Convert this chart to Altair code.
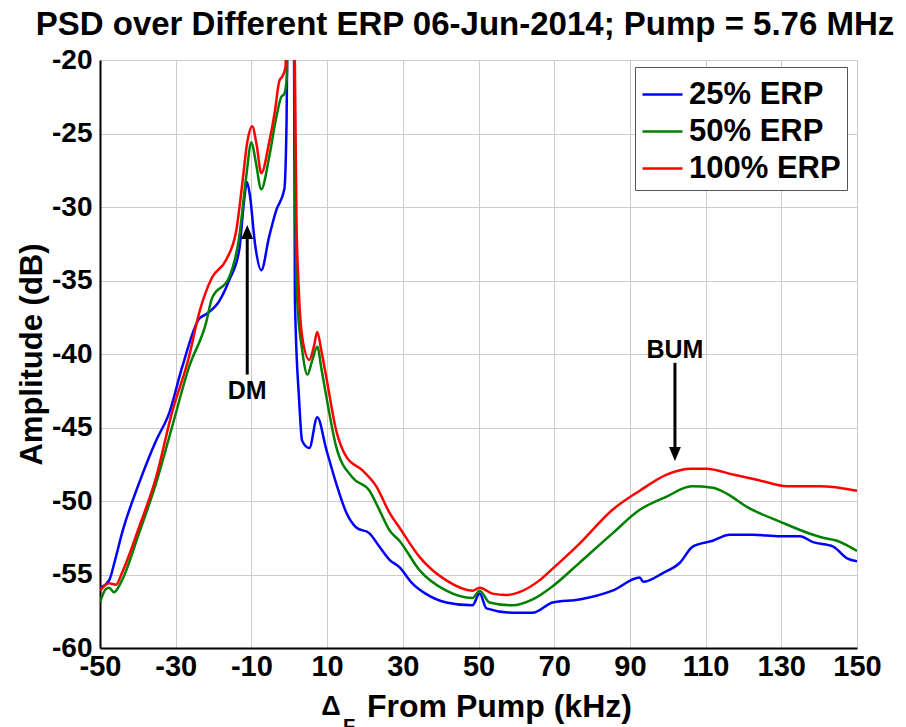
import altair as alt
import pandas as pd

# ---------------- data ----------------
x_25 = [-50, -47.6, -46, -44.2, -39.7, -35.2, -31.7, -28.3, -23.8, -22, -18.5, -15.9, -13.2,
        -11.9, -11.2, -10.4, -9, -7.4, -5.3, -3.4, -1.3, -0.7, -0.3, 0.5, 1.2, 1.5, 2.6, 3.4,
        5.3, 7.4, 9.8, 12.4, 15.1, 17.7, 21.2, 23.8, 26.5, 29.1, 32.5, 36, 41.5, 48.4, 50.3,
        52.1, 59, 64.3, 69.6, 76.7, 85.4, 92.6, 93.5, 98.7, 103.2, 106.6, 111.9, 116.4, 122.5,
        129.6, 134.9, 138.4, 143.7, 147.4, 150]
y_25 = [-55.9, -55.4, -54.0, -52.2, -48.8, -45.9, -44.0, -40.9, -37.6, -37.3, -36.4, -35.0, -32.9,
        -29.5, -28.3, -29.2, -32.6, -34.3, -32.0, -30.2, -28.8, -24.0, -12.0, 0.0, -14.0, -36.3, -43.1, -45.9,
        -46.4, -44.3, -46.5, -48.8, -50.8, -51.8, -52.2, -53.1, -54.0, -54.5, -55.6, -56.3, -56.9, -57.1, -56.3,
        -57.3, -57.6, -57.6, -56.9, -56.7, -56.1, -55.2, -55.5, -54.9, -54.2, -53.1, -52.7, -52.3, -52.3,
        -52.4, -52.4, -52.8, -53.1, -53.9, -54.1]

x_50 = [-50, -48.5, -47.6, -46.3, -44.2, -39.7, -35.2, -31, -26.5, -22, -20.4, -15.9, -13.2, -11.4,
        -10, -8.8, -7.4, -5.3, -3.5, -2.1, -1.3, -0.6, -0.3, 0.5, 1.2, 1.6, 2.1, 3.4, 4.8, 6, 7.4,
        8.5, 9.8, 12.4, 16.7, 21.2, 23.8, 26.5, 29.1, 34.4, 41.5, 48.4, 50.3, 52.9, 59, 64.3, 69.6,
        76.7, 85.4, 92.6, 99.7, 106.3, 111.9, 115.6, 120.9, 129.6, 138.4, 141, 144.7, 150]
y_50 = [-56.9, -56.0, -55.9, -56.2, -55.4, -52.2, -48.8, -45.0, -40.9, -37.9, -36.2, -34.8, -32.0, -28.0,
        -25.6, -27.0, -28.8, -26.6, -24.0, -22.5, -22.3, -21.0, -10.0, 0.0, -12.0, -30.0, -36.3, -39.7, -41.4, -40.5, -39.5,
        -41.0, -42.9, -46.3, -48.4, -49.3, -50.6, -52.0, -52.7, -54.7, -56.1, -56.6, -56.1, -56.9, -57.1, -56.7, -55.8,
        -54.2, -52.2, -50.6, -49.7, -49.0, -49.1, -49.5, -50.4, -51.4, -52.3, -52.5, -52.7, -53.4]

x_100 = [-50, -47.6, -45.8, -44.2, -39.7, -35.2, -31, -26.5, -23.8, -20.4, -16.7, -14, -12.4, -11.1,
         -9.8, -8.6, -7.4, -5.3, -3.8, -2.6, -1.8, -1.0, -0.5, 0.5, 1.3, 1.9, 2.5, 3.4, 5.3, 6.5, 7.4,
         8.5, 9.8, 12.4, 15.1, 19.3, 23.0, 26.5, 29.1, 34.4, 41.5, 48.4, 50.3, 53.7, 57.4, 60.8, 66.1,
         69.6, 76.7, 85.4, 92.6, 99.7, 106.3, 110.3, 117.2, 124.3, 131.5, 140.2, 150]
y_100 = [-56.1, -55.6, -55.7, -54.9, -51.8, -48.4, -44.0, -40.2, -37.2, -34.8, -33.6, -31.6, -28.4, -25.6,
         -24.5, -25.8, -27.7, -25.6, -23.5, -21.4, -21.1, -20.5, -12.0, 0.0, -15.0, -30.7, -35.5, -38.8, -40.4, -39.5, -38.5,
         -39.8, -41.6, -45.2, -47.0, -47.9, -49.0, -50.8, -51.8, -53.8, -55.4, -56.1, -55.9, -56.3, -56.4, -56.2, -55.4,
         -54.6, -52.9, -50.6, -49.3, -48.2, -47.8, -47.8, -48.2, -48.6, -49.0, -49.0, -49.3]

series_names = ["25% ERP", "50% ERP", "100% ERP"]
series_colors = ["#0000ff", "#008000", "#ff0000"]

x_ticks = [-50, -30, -10, 10, 30, 50, 70, 90, 110, 130, 150]
y_ticks = [-60, -55, -50, -45, -40, -35, -30, -25, -20]

ann_labels = ["DM", "BUM"]
ann_x = [-11.1, 101.9]
ann_text_y = [-42.5, -39.7]
ann_shaft_y1 = [-41.4, -40.6]
ann_shaft_y2 = [-31.6, -46.5]
ann_head_y = [-31.7, -46.8]

FONT = "Liberation Sans, Arial, Helvetica, sans-serif"

rows = []
for name, xs, ys in zip(series_names, [x_25, x_50, x_100], [y_25, y_50, y_100]):
    for i, (a, b) in enumerate(zip(xs, ys)):
        rows.append({"series": name, "x": a, "y": b, "order": i})
df = pd.DataFrame(rows)

ann = pd.DataFrame({"label": ann_labels, "x": ann_x, "ty": ann_text_y,
                    "y1": ann_shaft_y1, "y2": ann_shaft_y2, "hy": ann_head_y})
ann_up = ann.iloc[[0]]
ann_down = ann.iloc[[1]]

W, H = 757, 588
xscale = alt.Scale(domain=[-50, 150], nice=False, zero=False)
yscale = alt.Scale(domain=[-60, -20], nice=False, zero=False)

lines = alt.Chart(df).mark_line(strokeWidth=2.5, clip=True, interpolate="monotone").encode(
    x=alt.X("x:Q", scale=xscale,
            axis=alt.Axis(values=x_ticks, title=None, labelFontSize=29, labelFont=FONT,
                          labelFontWeight="bold", labelColor="black", labelFlush=False,
                          labelOverlap=False, labelPadding=4, ticks=False, domainColor="black",
                          domainWidth=2, gridColor="#cccccc", gridWidth=1,
                          labelExpr="'' + datum.value")),
    y=alt.Y("y:Q", scale=yscale,
            axis=alt.Axis(values=y_ticks, title="Amplitude (dB)", labelFontSize=28, labelFont=FONT,
                          labelFontWeight="bold", labelColor="black", labelFlush=False,
                          labelOverlap=False, labelPadding=8, ticks=False, domainColor="black",
                          domainWidth=2, gridColor="#cccccc", gridWidth=1,
                          titleFontSize=31, titleFont=FONT, titleFontWeight="bold",
                          titleColor="black", titlePadding=3,
                          labelExpr="'' + datum.value")),
    color=alt.Color("series:N", scale=alt.Scale(domain=series_names, range=series_colors),
                    sort=series_names,
                    legend=alt.Legend(title=None, orient="none", legendX=535, legendY=7,
                                      labelFontSize=31, labelFont=FONT, labelFontWeight="bold",
                                      labelColor="black", symbolType="stroke", symbolSize=1600,
                                      symbolStrokeWidth=2.5, strokeColor="#555555",
                                      fillColor="white", padding=6, rowPadding=-2,
                                      labelOffset=5, labelLimit=400)),
    order="order:Q",
)

shafts = alt.Chart(ann).mark_rule(strokeWidth=3, color="black").encode(
    x=alt.X("x:Q", scale=xscale), y=alt.Y("y1:Q", scale=yscale), y2="y2:Q")

head_up = alt.Chart(ann_up).mark_point(shape="M-0.85,1L0,-1L0.85,1Z", size=196, filled=True,
                                        color="black", opacity=1).encode(
    x=alt.X("x:Q", scale=xscale), y=alt.Y("hy:Q", scale=yscale))
head_down = alt.Chart(ann_down).mark_point(shape="M-0.85,-1L0,1L0.85,-1Z", size=196, filled=True,
                                            color="black", opacity=1).encode(
    x=alt.X("x:Q", scale=xscale), y=alt.Y("hy:Q", scale=yscale))

ann_text = alt.Chart(ann).mark_text(fontSize=25, font=FONT, fontWeight="bold", color="black",
                                    baseline="middle", align="center").encode(
    x=alt.X("x:Q", scale=xscale), y=alt.Y("ty:Q", scale=yscale), text="label:N")

title_df = pd.DataFrame({"t": ["PSD over Different ERP 06-Jun-2014; Pump = 5.76 MHz"]})
title_mark = alt.Chart(title_df).mark_text(fontSize=33, font=FONT, fontWeight="bold", color="black",
                                           align="center", baseline="alphabetic").encode(
    x=alt.value(365), y=alt.value(-25), text="t:N")

xt_df = pd.DataFrame({"t": ["From Pump (kHz)"]})
xtitle = alt.Chart(xt_df).mark_text(fontSize=32, font=FONT, fontWeight="bold", color="black",
                                    align="left", baseline="alphabetic").encode(
    x=alt.value(267), y=alt.value(657), text="t:N")
delta_df = pd.DataFrame({"t": ["Δ"]})
delta = alt.Chart(delta_df).mark_text(fontSize=27, font=FONT, fontWeight="bold", color="black",
                                      align="center", baseline="alphabetic").encode(
    x=alt.value(231), y=alt.value(655), text="t:N")
sub_df = pd.DataFrame({"t": ["F"]})
sub = alt.Chart(sub_df).mark_text(fontSize=20, font=FONT, fontWeight="bold", color="black",
                                  align="center", baseline="alphabetic").encode(
    x=alt.value(249), y=alt.value(673), text="t:N")

chart = alt.layer(lines, shafts, head_up, head_down, ann_text, title_mark, xtitle, delta, sub).properties(
    width=W, height=H,
    autosize=alt.AutoSizeParams(type="none"),
    padding={"left": 100, "top": 60, "right": 49, "bottom": 79},
).configure_view(stroke=None).configure(background="white")

chart.save("out.html", embed_options={"renderer": "svg", "actions": False})
